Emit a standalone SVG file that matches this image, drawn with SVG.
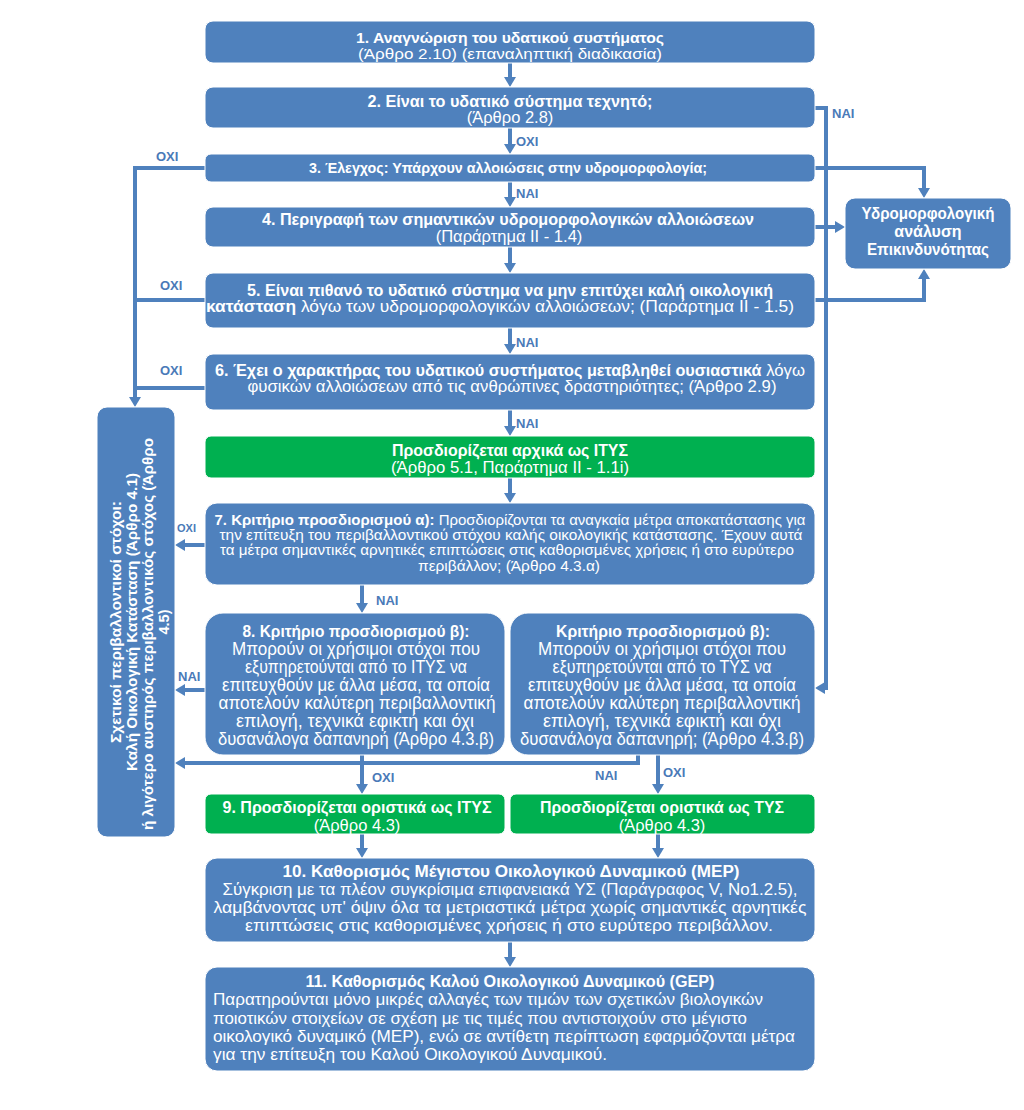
<svg xmlns="http://www.w3.org/2000/svg" width="1024" height="1110" viewBox="0 0 1024 1110">
<defs>
<style>
.b{fill:#4f81bd;stroke:#ffffff;stroke-width:1}
.g{fill:#00b050;stroke:#ffffff;stroke-width:1}
text{font-family:"Liberation Sans",Arial,sans-serif;fill:#ffffff;font-size:16.5px}
.c{text-anchor:middle}
.bd{font-weight:bold;font-size:16px}
.s7{font-size:14.5px}
.s8{font-size:17.5px}
.lbl{fill:#4a7ab8;font-weight:bold;font-size:13px}
.ln{fill:none;stroke:#4f81bd;stroke-width:4}
</style>
<marker id="ah" viewBox="0 0 10 12" refX="1" refY="6" markerWidth="10" markerHeight="12" markerUnits="userSpaceOnUse" orient="auto"><path d="M0,0L10,6L0,12z" fill="#4f81bd"/></marker>
</defs>
<rect width="1024" height="1110" fill="#ffffff"/>

<g id="connectors">
<path class="ln" marker-end="url(#ah)" d="M510,63V78"/>
<path class="ln" marker-end="url(#ah)" d="M510,128V145"/>
<path class="ln" marker-end="url(#ah)" d="M510,182V198"/>
<path class="ln" marker-end="url(#ah)" d="M510,247V264"/>
<path class="ln" marker-end="url(#ah)" d="M510,328V345"/>
<path class="ln" marker-end="url(#ah)" d="M510,410V427"/>
<path class="ln" marker-end="url(#ah)" d="M510,478V494"/>
<path class="ln" marker-end="url(#ah)" d="M362,585V604"/>
<path class="ln" marker-end="url(#ah)" d="M362,755V785"/>
<path class="ln" marker-end="url(#ah)" d="M658,755V785"/>
<path class="ln" marker-end="url(#ah)" d="M362,834V849"/>
<path class="ln" marker-end="url(#ah)" d="M658,834V849"/>
<path class="ln" marker-end="url(#ah)" d="M510,942V958"/>
<path class="ln" marker-end="url(#ah)" d="M815,108H826V688H824"/>
<path class="ln" marker-end="url(#ah)" d="M815,168H924V189"/>
<path class="ln" marker-end="url(#ah)" d="M815,227H836"/>
<path class="ln" marker-end="url(#ah)" d="M815,300H924V278"/>
<path class="ln" marker-end="url(#ah)" d="M205,168H135V398"/>
<path class="ln" d="M205,300H135"/>
<path class="ln" d="M205,388H135"/>
<path class="ln" marker-end="url(#ah)" d="M205,545H184"/>
<path class="ln" marker-end="url(#ah)" d="M205,690H184"/>
<path class="ln" marker-end="url(#ah)" d="M638,755V763H184"/>
<text class="lbl" x="516" y="146">OXI</text>
<text class="lbl" x="516" y="198">NAI</text>
<text class="lbl" x="516" y="347">NAI</text>
<text class="lbl" x="516" y="428">NAI</text>
<text class="lbl" x="832" y="118">NAI</text>
<text class="lbl" x="156" y="161">OXI</text>
<text class="lbl" x="160" y="290">OXI</text>
<text class="lbl" x="160" y="375">OXI</text>
<text class="lbl" x="177" y="532" style="font-size:11px">OXI</text>
<text class="lbl" x="178" y="681">NAI</text>
<text class="lbl" x="376" y="605">NAI</text>
<text class="lbl" x="372" y="782">OXI</text>
<text class="lbl" x="595" y="780">NAI</text>
<text class="lbl" x="663" y="777">OXI</text>
</g>

<g id="n1">
<rect class="b" x="205" y="21" width="610" height="42" rx="8"/>
<text class="c bd" x="510" y="43" style="font-size:15px" textLength="308" lengthAdjust="spacingAndGlyphs">1. Αναγνώριση του υδατικού συστήματος</text>
<text class="c" x="510" y="59" style="font-size:15px" textLength="304" lengthAdjust="spacingAndGlyphs">(Άρθρο 2.10) (επαναληπτική διαδικασία)</text>
</g>
<g id="n2">
<rect class="b" x="205" y="87" width="610" height="41" rx="8"/>
<text class="c bd" x="510" y="107" textLength="285" lengthAdjust="spacingAndGlyphs">2. Είναι το υδατικό σύστημα τεχνητό;</text>
<text class="c" x="510" y="123">(Άρθρο 2.8)</text>
</g>
<g id="n3">
<rect class="b" x="205" y="154" width="610" height="28" rx="6"/>
<text class="c bd" x="508" y="173" style="font-size:14px" textLength="398" lengthAdjust="spacingAndGlyphs">3. Έλεγχος: Υπάρχουν αλλοιώσεις στην υδρομορφολογία;</text>
</g>
<g id="n4">
<rect class="b" x="205" y="207" width="610" height="40" rx="8"/>
<text class="c bd" x="508" y="225" textLength="492" lengthAdjust="spacingAndGlyphs">4. Περιγραφή των σημαντικών υδρομορφολογικών αλλοιώσεων</text>
<text class="c" x="509" y="242">(Παράρτημα ΙΙ - 1.4)</text>
</g>
<g id="n5">
<rect class="b" x="205" y="273" width="610" height="55" rx="8"/>
<text class="c bd" x="510" y="296" textLength="526" lengthAdjust="spacingAndGlyphs">5. Είναι πιθανό το υδατικό σύστημα να μην επιτύχει καλή οικολογική</text>
<text class="c" x="500" y="312" textLength="588" lengthAdjust="spacingAndGlyphs"><tspan class="bd" style="font-size:16.5px">κατάσταση</tspan> λόγω των υδρομορφολογικών αλλοιώσεων; (Παράρτημα ΙΙ - 1.5)</text>
</g>
<g id="n6">
<rect class="b" x="205" y="354" width="610" height="56" rx="8"/>
<text class="c" x="510" y="376" textLength="590" lengthAdjust="spacingAndGlyphs"><tspan class="bd">6. Έχει ο χαρακτήρας του υδατικού συστήματος μεταβληθεί ουσιαστικά</tspan> λόγω</text>
<text class="c" x="512" y="392" textLength="529" lengthAdjust="spacingAndGlyphs">φυσικών αλλοιώσεων από τις ανθρώπινες δραστηριότητες; (Άρθρο 2.9)</text>
</g>
<g id="n_itys0">
<rect class="g" x="205" y="436" width="610" height="42" rx="6"/>
<text class="c bd" x="510" y="456" textLength="236" lengthAdjust="spacingAndGlyphs">Προσδιορίζεται αρχικά ως ΙΤΥΣ</text>
<text class="c" x="510" y="473" textLength="238" lengthAdjust="spacingAndGlyphs">(Άρθρο 5.1, Παράρτημα ΙΙ - 1.1i)</text>
</g>
<g id="n7">
<rect class="b" x="205" y="503" width="610" height="82" rx="12"/>
<text class="c s7" x="510" y="525" textLength="591" lengthAdjust="spacingAndGlyphs"><tspan class="bd s7">7. Κριτήριο προσδιορισμού α):</tspan> Προσδιορίζονται τα αναγκαία μέτρα αποκατάστασης για</text>
<text class="c s7" x="511" y="540" textLength="583" lengthAdjust="spacingAndGlyphs">την επίτευξη του περιβαλλοντικού στόχου καλής οικολογικής κατάστασης. Έχουν αυτά</text>
<text class="c s7" x="507" y="555" textLength="574" lengthAdjust="spacingAndGlyphs">τα μέτρα σημαντικές αρνητικές επιπτώσεις στις καθορισμένες χρήσεις ή στο ευρύτερο</text>
<text class="c s7" x="509" y="571" textLength="182" lengthAdjust="spacingAndGlyphs">περιβάλλον; (Άρθρο 4.3.α)</text>
</g>
<g id="n8">
<rect class="b" x="205" y="613" width="300" height="142" rx="18"/>
<text class="c bd" x="356" y="637" textLength="227" lengthAdjust="spacingAndGlyphs">8. Κριτήριο προσδιορισμού β):</text>
<text class="c s8" x="356" y="655" textLength="248" lengthAdjust="spacingAndGlyphs">Μπορούν οι χρήσιμοι στόχοι που</text>
<text class="c s8" x="356" y="673" textLength="222" lengthAdjust="spacingAndGlyphs">εξυπηρετούνται από το ΙΤΥΣ να</text>
<text class="c s8" x="356" y="691" textLength="268" lengthAdjust="spacingAndGlyphs">επιτευχθούν με άλλα μέσα, τα οποία</text>
<text class="c s8" x="357" y="709" textLength="277" lengthAdjust="spacingAndGlyphs">αποτελούν καλύτερη περιβαλλοντική</text>
<text class="c s8" x="355" y="727" textLength="238" lengthAdjust="spacingAndGlyphs">επιλογή, τεχνικά εφικτή και όχι</text>
<text class="c s8" x="356" y="745" textLength="276" lengthAdjust="spacingAndGlyphs">δυσανάλογα δαπανηρή (Άρθρο 4.3.β)</text>
</g>
<g id="n8b">
<rect class="b" x="510" y="613" width="305" height="142" rx="18"/>
<text class="c bd" x="663" y="637" textLength="214" lengthAdjust="spacingAndGlyphs">Κριτήριο προσδιορισμού β):</text>
<text class="c s8" x="662" y="655" textLength="248" lengthAdjust="spacingAndGlyphs">Μπορούν οι χρήσιμοι στόχοι που</text>
<text class="c s8" x="662" y="673" textLength="219" lengthAdjust="spacingAndGlyphs">εξυπηρετούνται από το ΤΥΣ να</text>
<text class="c s8" x="662" y="691" textLength="268" lengthAdjust="spacingAndGlyphs">επιτευχθούν με άλλα μέσα, τα οποία</text>
<text class="c s8" x="662" y="709" textLength="277" lengthAdjust="spacingAndGlyphs">αποτελούν καλύτερη περιβαλλοντική</text>
<text class="c s8" x="662" y="727" textLength="238" lengthAdjust="spacingAndGlyphs">επιλογή, τεχνικά εφικτή και όχι</text>
<text class="c s8" x="662" y="745" textLength="284" lengthAdjust="spacingAndGlyphs">δυσανάλογα δαπανηρή; (Άρθρο 4.3.β)</text>
</g>
<g id="n9">
<rect class="g" x="205" y="794" width="300" height="40" rx="6"/>
<text class="c bd" x="357" y="813" textLength="269" lengthAdjust="spacingAndGlyphs">9. Προσδιορίζεται οριστικά ως ΙΤΥΣ</text>
<text class="c" x="357" y="831">(Άρθρο 4.3)</text>
</g>
<g id="n9b">
<rect class="g" x="510" y="794" width="305" height="40" rx="6"/>
<text class="c bd" x="662" y="813" textLength="244" lengthAdjust="spacingAndGlyphs">Προσδιορίζεται οριστικά ως ΤΥΣ</text>
<text class="c" x="662" y="831">(Άρθρο 4.3)</text>
</g>
<g id="n10">
<rect class="b" x="205" y="858" width="610" height="84" rx="12"/>
<text class="c bd" x="511" y="877" textLength="457" lengthAdjust="spacingAndGlyphs">10. Καθορισμός Μέγιστου Οικολογικού Δυναμικού (MEP)</text>
<text class="c" x="510" y="895" style="font-size:15.8px" textLength="575" lengthAdjust="spacingAndGlyphs">Σύγκριση με τα πλέον συγκρίσιμα επιφανειακά ΥΣ (Παράγραφος V, No1.2.5),</text>
<text class="c" x="510" y="913" style="font-size:15.8px" textLength="593" lengthAdjust="spacingAndGlyphs">λαμβάνοντας υπ' όψιν όλα τα μετριαστικά μέτρα χωρίς σημαντικές αρνητικές</text>
<text class="c" x="509" y="931" style="font-size:15.8px" textLength="528" lengthAdjust="spacingAndGlyphs">επιπτώσεις στις καθορισμένες χρήσεις ή στο ευρύτερο περιβάλλον.</text>
</g>
<g id="n11">
<rect class="b" x="205" y="967" width="610" height="104" rx="12"/>
<text class="c bd" x="510" y="987" textLength="409" lengthAdjust="spacingAndGlyphs">11. Καθορισμός Καλού Οικολογικού Δυναμικού (GEP)</text>
<text x="213" y="1005" style="font-size:17px" textLength="550" lengthAdjust="spacingAndGlyphs">Παρατηρούνται μόνο μικρές αλλαγές των τιμών των σχετικών βιολογικών</text>
<text x="213" y="1024" style="font-size:17px" textLength="534" lengthAdjust="spacingAndGlyphs">ποιοτικών στοιχείων σε σχέση με τις τιμές που αντιστοιχούν στο μέγιστο</text>
<text x="213" y="1042" style="font-size:17px" textLength="582" lengthAdjust="spacingAndGlyphs">οικολογικό δυναμικό (MEP), ενώ σε αντίθετη περίπτωση εφαρμόζονται μέτρα</text>
<text x="213" y="1060" style="font-size:17px" textLength="394" lengthAdjust="spacingAndGlyphs">για την επίτευξη του Καλού Οικολογικού Δυναμικού.</text>
</g>
<g id="n_risk">
<rect class="b" x="845" y="198" width="166" height="71" rx="10"/>
<text class="c bd" x="928" y="219" textLength="133" lengthAdjust="spacingAndGlyphs">Υδρομορφολογική</text>
<text class="c bd" x="928" y="237">ανάλυση</text>
<text class="c bd" x="928" y="255" textLength="122" lengthAdjust="spacingAndGlyphs">Επικινδυνότητας</text>
</g>
<g id="n_goals">
<rect class="b" x="97" y="407" width="78" height="430" rx="10"/>
<g transform="translate(136,622) rotate(-90)">
<text class="c bd" x="0" y="-15" style="font-size:14.5px" textLength="242" lengthAdjust="spacingAndGlyphs">Σχετικοί περιβαλλοντικοί στόχοι:</text>
<text class="c bd" x="0" y="1" style="font-size:14.5px" textLength="298" lengthAdjust="spacingAndGlyphs">Καλή Οικολογική Κατάσταση (Άρθρο 4.1)</text>
<text class="c bd" x="-12" y="17" style="font-size:14.5px" textLength="392" lengthAdjust="spacingAndGlyphs">ή λιγότερο αυστηρός περιβαλλοντικός στόχος (Άρθρο</text>
<text class="c bd" x="0" y="33" style="font-size:14.5px">4.5)</text>
</g>
</g>
</svg>
